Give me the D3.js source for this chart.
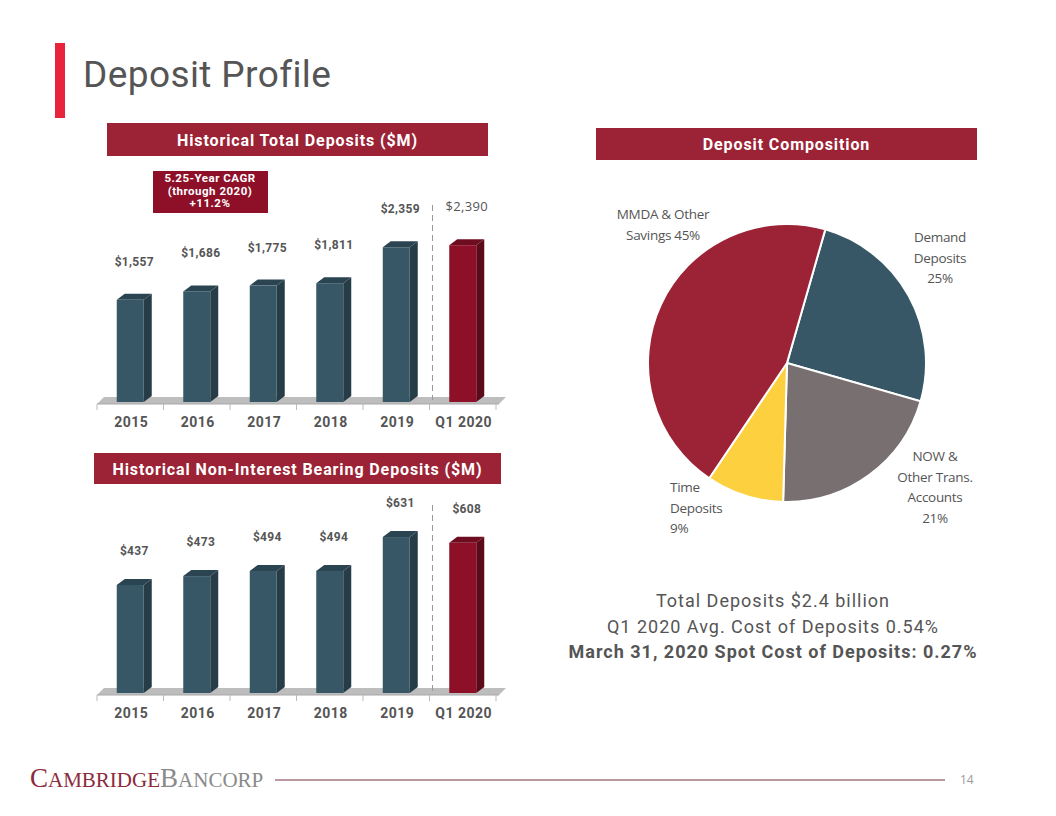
<!DOCTYPE html>
<html><head><meta charset="utf-8">
<script src="https://cdn.jsdelivr.net/npm/d3@7"></script>
<style>body{margin:0;background:#fff}svg{display:block}</style>
</head><body>
<script>
const categories = ['2015','2016','2017','2018','2019','Q1 2020'];
const totalDeposits = [1557,1686,1775,1811,2359,2390];
const totalLabels = ['$1,557','$1,686','$1,775','$1,811','$2,359','$2,390'];
const nibDeposits = [437,473,494,494,631,608];
const nibLabels = ['$437','$473','$494','$494','$631','$608'];
const pieNames = ['Demand Deposits','NOW & Other Trans. Accounts','Time Deposits','MMDA & Other Savings'];
const pieValues = [25,21,9,45];
const pieColors = ['#375766','#787070','#fcd03e','#9b2335'];
const summaryLines = ['Total Deposits $2.4 billion','Q1 2020 Avg. Cost of Deposits 0.54%','March 31, 2020 Spot Cost of Deposits: 0.27%'];

const W=1056,H=816;
const svg=d3.select('body').append('svg').attr('width',W).attr('height',H);
const FONT='Roboto, "DejaVu Sans", sans-serif';
const LIGHT='"Open Sans", Lato, sans-serif';

// Title
svg.append('rect').attr('x',55).attr('y',43).attr('width',10).attr('height',75).attr('fill','#e8243c');
svg.append('text').attr('x',83).attr('y',87).attr('font-family',FONT).attr('font-size',37).attr('letter-spacing',0.4).attr('fill','#555')
  .text('Deposit Profile');

function header(x,y,w,h,txt){
  svg.append('rect').attr('x',x).attr('y',y).attr('width',w).attr('height',h).attr('fill','#9b2335');
  svg.append('text').attr('x',x+w/2).attr('y',y+h/2+6).attr('text-anchor','middle').attr('font-family',FONT)
    .attr('font-weight','bold').attr('font-size',16).attr('letter-spacing',0.9).attr('fill','#fff').text(txt);
}
header(107,123,381,33,'Historical Total Deposits ($M)');
header(94,453,407,31,'Historical Non-Interest Bearing Deposits ($M)');
header(596,128,381,32,'Deposit Composition');

function barChart(values,labels,floorY,yMax,topY,labelGap,dashTop,opts){
  const x=d3.scaleBand().domain(categories).range([97,496]).padding(0);
  const y=d3.scaleLinear().domain([0,yMax]).range([floorY,topY]);
  const g=svg.append('g');
  const bw=27,dx=8,dy=6;
  // floor
  g.append('path').attr('d',`M97,${floorY+2} L104,${floorY-5} L506,${floorY-5} L499,${floorY+2} Z`).attr('fill','#bdbdbd');
  g.append('line').attr('x1',97).attr('x2',499).attr('y1',floorY+2).attr('y2',floorY+2).attr('stroke','#a8a8a8');
  // ticks
  const ticks=categories.map(c=>x(c)).concat([x(categories[5])+x.bandwidth()]);
  g.selectAll('.tk').data(ticks).join('line').attr('x1',d=>d).attr('x2',d=>d)
    .attr('y1',floorY+2).attr('y2',floorY+8).attr('stroke','#bbb');
  // dashed separator
  const sepX=x(categories[5])+3;
  g.append('line').attr('x1',sepX).attr('x2',sepX).attr('y1',dashTop).attr('y2',floorY-2)
    .attr('stroke','#999').attr('stroke-dasharray','6,4').attr('stroke-width',1);
  const data=categories.map((c,i)=>({c,v:values[i],l:labels[i],last:i===5}));
  const bars=g.selectAll('.bar').data(data).join('g');
  bars.each(function(d){
    const s=d3.select(this);
    const x0=x(d.c)+x.bandwidth()/2-bw/2, y0=y(d.v), y1=floorY;
    const front=d.last?'#8d1028':'#375766', side=d.last?'#5c0a19':'#263c47', top=d.last?'#6e0c20':'#2b4451';
    s.append('path').attr('d',`M${x0+bw},${y0} L${x0+bw+dx},${y0-dy} L${x0+bw+dx},${y1-dy} L${x0+bw},${y1} Z`).attr('fill',side);
    s.append('path').attr('d',`M${x0},${y0} L${x0+dx},${y0-dy} L${x0+bw+dx},${y0-dy} L${x0+bw},${y0} Z`).attr('fill',top);
    s.append('rect').attr('x',x0).attr('y',y0).attr('width',bw).attr('height',y1-y0).attr('fill',front);
    const lastPlain=d.last&&opts.lastPlain;
    s.append('text').attr('x',x0+bw/2+4).attr('y',y0-labelGap).attr('text-anchor','middle')
      .attr('font-family',lastPlain?LIGHT:FONT).attr('font-weight',lastPlain?'normal':'bold')
      .attr('font-size',lastPlain?13:12).attr('letter-spacing',0.3).attr('fill','#555').text(d.l);
  });
  g.selectAll('.xl').data(categories).join('text').attr('x',d=>x(d)+x.bandwidth()/2+1).attr('y',floorY+25)
    .attr('text-anchor','middle').attr('font-family',FONT).attr('font-weight','bold').attr('font-size',14)
    .attr('letter-spacing',0.5).attr('fill','#555').text(d=>d);
}
barChart(totalDeposits,totalLabels,402,2500,238,34,205,{lastPlain:true});
barChart(nibDeposits,nibLabels,693,700,520,30,505,{lastPlain:false});

// CAGR box
svg.append('rect').attr('x',153).attr('y',171).attr('width',115).attr('height',42).attr('fill','#8d1028');
['5.25-Year CAGR','(through 2020)','+11.2%'].forEach((t,i)=>{
  svg.append('text').attr('x',210).attr('y',182+i*12.5).attr('text-anchor','middle').attr('font-family',FONT)
    .attr('font-weight','bold').attr('font-size',11.5).attr('letter-spacing',0.5).attr('fill','#fff').text(t);
});

// Pie
const cx=787,cy=363,r=139;
const pie=d3.pie().sort(null).startAngle(16*Math.PI/180).endAngle(376*Math.PI/180);
const arc=d3.arc().innerRadius(0).outerRadius(r);
const arcs=pie(pieValues);
svg.append('g').attr('transform',`translate(${cx},${cy})`).selectAll('path').data(arcs).join('path')
  .attr('d',arc).attr('fill',(d,i)=>pieColors[i]).attr('stroke','#fff').attr('stroke-width',2);

const pieLabelLines=[
  {lines:['Demand','Deposits','25%'],x:940,y:242,a:'middle'},
  {lines:['NOW &','Other Trans.','Accounts','21%'],x:935,y:461,a:'middle'},
  {lines:['Time','Deposits','9%'],x:670,y:492,a:'start'},
  {lines:['MMDA & Other','Savings 45%'],x:663,y:219,a:'middle'}
];
pieLabelLines.forEach(p=>{
  const t=svg.append('text').attr('font-family',LIGHT).attr('font-size',13.5).attr('letter-spacing',-0.3).attr('fill','#555').attr('text-anchor',p.a);
  p.lines.forEach((l,i)=>t.append('tspan').attr('x',p.x).attr('y',p.y+i*20.5).text(l));
});

// summary text
summaryLines.forEach((t,i)=>{
  svg.append('text').attr('x',773).attr('y',607+i*25.5).attr('text-anchor','middle').attr('font-family',FONT)
    .attr('font-weight',i===2?'bold':'normal').attr('font-size',18).attr('letter-spacing',1).attr('fill','#555').text(t);
});

// footer
const ft=svg.append('text').attr('x',30).attr('y',787).attr('font-family','"Liberation Serif", serif').attr('fill','#8b2b3b');
ft.append('tspan').attr('font-size',27).text('C');
ft.append('tspan').attr('font-size',21).text('AMBRIDGE');
ft.append('tspan').attr('font-size',27).attr('fill','#8a8a8a').text('B');
ft.append('tspan').attr('font-size',21).attr('fill','#8a8a8a').text('ANCORP');
svg.append('line').attr('x1',275).attr('x2',945).attr('y1',780).attr('y2',780).attr('stroke','#7a3344').attr('stroke-width',1.2);
svg.append('text').attr('x',960).attr('y',784).attr('font-family',LIGHT).attr('font-size',12).attr('fill','#999').text('14');
</script>
</body></html>
